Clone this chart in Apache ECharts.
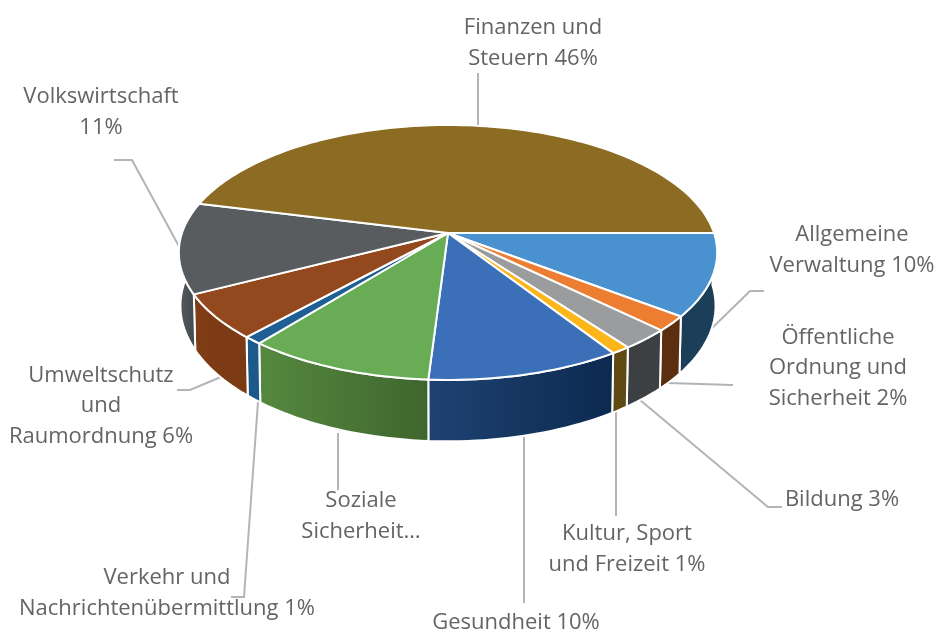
<!DOCTYPE html>
<html><head><meta charset="utf-8">
<style>html,body{margin:0;padding:0;background:#fff}#c{width:939px;height:634px}</style>
<script src="https://cdn.jsdelivr.net/npm/echarts@6/dist/echarts.min.js"></script>
</head><body><div id="c"></div>
<script>
// Data (clockwise from the 3 o'clock position)
const categories = ['Allgemeine Verwaltung','Öffentliche Ordnung und Sicherheit','Bildung','Kultur, Sport und Freizeit','Gesundheit','Soziale Sicherheit','Verkehr und Nachrichtenübermittlung','Umweltschutz und Raumordnung','Volkswirtschaft','Finanzen und Steuern'];
const values = [10.4,1.9,2.6,1.0,10.1,9.75,0.97,5.7,11.5,46.08];
const labelTexts = ['Allgemeine\nVerwaltung 10%','Öffentliche\nOrdnung und\nSicherheit 2%','Bildung 3%','Kultur, Sport\nund Freizeit 1%','Gesundheit 10%','Soziale\nSicherheit…','Verkehr und\nNachrichtenübermittlung 1%','Umweltschutz\nund\nRaumordnung 6%','Volkswirtschaft\n11%','Finanzen und\nSteuern 46%'];
// Style and layout
const topColors = ['#4a91cf','#ed7d31','#9a9c9e','#fcb61a','#3b70b8','#68ad55','#1f5f93','#94481e','#585c5e','#8c6c22'];
const sideFrom = ['#1b3f58','#5a2e0e','#3c4043','#5e4a12','#1f4272','#55893f','#1d5a8c','#803d16','#555a5e','#6b5218'];
const sideTo   = ['#1b3f58','#5a2e0e','#3c4043','#5e4a12','#0c2a50','#3f652e','#1d5a8c','#7a3a14','#44494c','#6b5218'];
const labelBoxes = [[852,250],[838,368],[842,500],[627,549],[516,623],[361,516],[167,593],[101,406],[101,112],[533,43]];
const leaders = [
  [[708,332],[750,291],[764,291]],
  [[668,383],[733,385]],
  [[640,400],[768,507],[782,507]],
  [[616,412],[616,516]],
  [[524,437],[524,603]],
  [[338,433],[338,490]],
  [[258,402],[244,597],[231,597]],
  [[221,377],[190,390],[177,390]],
  [[181,250],[132,160],[114,160]],
  [[478,127],[478,73]]
];
// Pie projection
const CX=448, CY=233, R=266, K=0.468, F=6.54*R, DEPTH=52, SHRINK=0.994;
function proj(deg, drop){
  const t=deg*Math.PI/180, s=Math.sin(t), c=Math.cos(t), g=F/(F-R*s);
  const sx=drop?SHRINK:1;
  return [CX+R*c*g*sx, CY+(R*K*s+drop)*g];
}
const total = values.reduce((a,b)=>a+b,0);
const starts=[]; values.reduce((acc,v,i)=>{starts[i]=acc;return acc+v/total*360;},0);
function arc(a0,a1,drop){
  const n=Math.max(2,Math.ceil((a1-a0)/1.5)), pts=[];
  for(let i=0;i<=n;i++) pts.push(proj(a0+(a1-a0)*i/n,drop));
  return pts;
}
const border={stroke:'#fff',lineWidth:2,lineJoin:'round'};
function renderSlice(params){
  const i=params.dataIndex, a0=starts[i], a1=a0+values[i]/total*360;
  const children=[];
  const f0=Math.max(a0,-8), f1=Math.min(a1,188);
  if(f1>f0){
    const side=arc(f0,f1,0).concat(arc(f0,f1,DEPTH).reverse());
    children.push({type:'polygon',z2:1,shape:{points:side},style:Object.assign({
      fill:{type:'linear',x:0,y:0,x2:1,y2:0,colorStops:[{offset:0,color:sideFrom[i]},{offset:1,color:sideTo[i]}]}
    },border)});
  }
  children.push({type:'polygon',z2:5,shape:{points:[[CX,CY]].concat(arc(a0,a1,0))},style:Object.assign({fill:topColors[i]},border)});
  return {type:'group',children};
}
function renderLabel(params){
  const i=params.dataIndex, b=labelBoxes[i];
  return {type:'group',children:[
    {type:'polyline',z2:0,shape:{points:leaders[i]},style:{stroke:'#b4b4b6',lineWidth:2,fill:null}},
    {type:'text',z2:10,x:b[0],y:b[1],style:{text:labelTexts[i],font:'22px "Open Sans"',lineHeight:30.5,align:'center',verticalAlign:'middle',fill:'#636466'}}
  ]};
}
const chart=echarts.init(document.getElementById('c'));
chart.setOption({
  animation:false,
  backgroundColor:'#fff',
  series:[
    {type:'custom',coordinateSystem:'none',z:1,silent:true,data:categories.map((c,i)=>({name:labelTexts[i],value:[i]})),renderItem:renderLabel},
    {type:'custom',coordinateSystem:'none',z:2,silent:true,data:categories.map((c,i)=>({name:c,value:[values[i]]})),renderItem:renderSlice}
  ]
});
</script></body></html>
